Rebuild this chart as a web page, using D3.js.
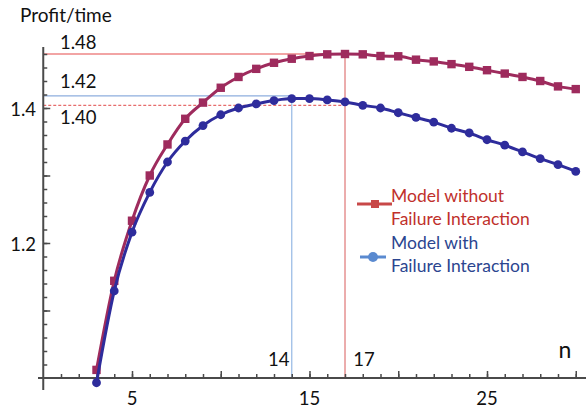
<!DOCTYPE html>
<html><head><meta charset="utf-8">
<script src="https://cdn.jsdelivr.net/npm/d3@7"></script>
<style>body{margin:0;background:#fff}svg{display:block}text{font-family:Lato,"Open Sans",sans-serif}</style>
</head><body>
<script>
const nValues = [3,4,5,6,7,8,9,10,11,12,13,14,15,16,17,18,19,20,21,22,23,24,25,26,27,28,29,30];
const withoutInteraction = [1.012,1.144,1.233,1.300,1.346,1.384,1.408,1.430,1.446,1.458,1.467,1.473,1.477,1.4795,1.480,1.4795,1.477,1.4766,1.4716,1.469,1.465,1.461,1.456,1.451,1.446,1.440,1.432,1.428];
const withInteraction = [0.993,1.129,1.216,1.275,1.320,1.351,1.374,1.390,1.400,1.406,1.411,1.414,1.414,1.412,1.409,1.404,1.400,1.393,1.386,1.379,1.370,1.363,1.353,1.345,1.335,1.325,1.316,1.306];
const xTickLabels = [5,15,25];
const yTickLabels = [1.2,1.4];
const refValues = [1.48,1.418,1.404];
const refLabels = ["1.48","1.42","1.40"];
const optimumN = [14,17];
const seriesNames = [["Model without","Failure Interaction"],["Model with","Failure Interaction"]];

const W=586,H=411;
const svg=d3.select("body").append("svg").attr("width",W).attr("height",H);
const x=d3.scaleLinear().domain([0,30]).range([43.25,575.75]);
const y=d3.scaleLinear().domain([1.0,1.48]).range([378,54]);
const axisColor="#4a4a4a";
const numFont=18.5;

// reference lines
svg.append("line").attr("x1",x(0)).attr("x2",x(optimumN[1])).attr("y1",y(refValues[0])).attr("y2",y(refValues[0]))
  .attr("stroke","#f2a4a4").attr("stroke-width",2);
svg.append("line").attr("x1",x(0)).attr("x2",x(optimumN[0])).attr("y1",y(refValues[1])).attr("y2",y(refValues[1]))
  .attr("stroke","#8eaede").attr("stroke-width",1.3);
svg.append("line").attr("x1",x(0)).attr("x2",x(optimumN[1])).attr("y1",y(refValues[2])).attr("y2",y(refValues[2]))
  .attr("stroke","#e04848").attr("stroke-width",1).attr("stroke-dasharray","3,2");
svg.append("line").attr("x1",x(optimumN[0])).attr("x2",x(optimumN[0])).attr("y1",y(1.0)).attr("y2",y(refValues[1]))
  .attr("stroke","#9dbde6").attr("stroke-width",1.3);
svg.append("line").attr("x1",x(optimumN[1])).attr("x2",x(optimumN[1])).attr("y1",y(1.0)).attr("y2",y(refValues[0]))
  .attr("stroke","#d85a5a").attr("stroke-width",1);

// axes
const yMinor=d3.range(1.02,1.485,0.02).map(v=>+v.toFixed(2));
const yMajor=[1.1,1.2,1.3,1.4];
const xMinor=d3.range(1,31);
const xMajor=[5,10,15,20,25,30];
function styleAxis(g){g.select(".domain").remove();g.selectAll(".tick line").attr("stroke",axisColor).attr("stroke-width",1.5);g.selectAll(".tick text").remove();}
svg.append("g").attr("transform",`translate(${x(0)},0)`).call(d3.axisLeft(y).tickValues(yMinor).tickSize(-4)).call(styleAxis);
svg.append("g").attr("transform",`translate(${x(0)},0)`).call(d3.axisLeft(y).tickValues(yMajor).tickSize(-7)).call(styleAxis);
svg.append("g").attr("transform",`translate(0,${y(1.0)})`).call(d3.axisBottom(x).tickValues(xMinor).tickSize(-4)).call(styleAxis);
svg.append("g").attr("transform",`translate(0,${y(1.0)})`).call(d3.axisBottom(x).tickValues(xMajor).tickSize(-7)).call(styleAxis);
svg.append("line").attr("x1",x(0)).attr("x2",x(0)).attr("y1",47).attr("y2",390).attr("stroke",axisColor).attr("stroke-width",2);
svg.append("line").attr("x1",38).attr("x2",W).attr("y1",y(1.0)).attr("y2",y(1.0)).attr("stroke",axisColor).attr("stroke-width",2);

// tick labels
svg.selectAll(".xl").data(xTickLabels).enter().append("text").attr("x",d=>x(d)).attr("y",405)
  .attr("text-anchor","middle").attr("font-size",numFont).attr("fill","#111").text(d=>d);
svg.selectAll(".yl").data(yTickLabels).enter().append("text").attr("x",36).attr("y",d=>y(d)+8)
  .attr("text-anchor","end").attr("font-size",numFont).attr("fill","#111").text(d=>d);
svg.selectAll(".rl").data(refValues).enter().append("text").attr("x",60)
  .attr("y",(d,i)=>[49,88,124][i]).attr("font-size",numFont).attr("fill","#111").text((d,i)=>refLabels[i]);
svg.append("text").attr("x",x(optimumN[0])-13).attr("y",366).attr("text-anchor","middle").attr("font-size",numFont).attr("fill","#111").text(optimumN[0]);
svg.append("text").attr("x",x(optimumN[1])+19).attr("y",366).attr("text-anchor","middle").attr("font-size",numFont).attr("fill","#111").text(optimumN[1]);
svg.append("text").attr("x",565).attr("y",358).attr("text-anchor","middle").attr("font-size",23).attr("fill","#111").text("n");
svg.append("text").attr("x",20).attr("y",22).attr("font-size",19).attr("fill","#111").text("Profit/time");

// series
const redC="#9e2b5d", blueC="#2e2c9c";
const line=d3.line().x((d,i)=>x(nValues[i])).y(d=>y(d)).curve(d3.curveMonotoneX);
svg.append("path").datum(withoutInteraction).attr("d",line).attr("fill","none").attr("stroke",redC).attr("stroke-width",3);
svg.selectAll(".sq").data(withoutInteraction).enter().append("rect")
  .attr("x",(d,i)=>x(nValues[i])-4.2).attr("y",d=>y(d)-4.2).attr("width",8.4).attr("height",8.4).attr("fill",redC);
svg.append("path").datum(withInteraction).attr("d",line).attr("fill","none").attr("stroke",blueC).attr("stroke-width",3);
svg.selectAll(".ci").data(withInteraction).enter().append("circle")
  .attr("cx",(d,i)=>x(nValues[i])).attr("cy",d=>y(d)).attr("r",4.4).attr("fill",blueC);

// legend
const lg=svg.append("g");
lg.append("line").attr("x1",357).attr("x2",392).attr("y1",204).attr("y2",204).attr("stroke","#c84848").attr("stroke-width",3);
lg.append("rect").attr("x",371).attr("y",200).attr("width",8).attr("height",8).attr("fill","#c84848");
lg.append("line").attr("x1",360).attr("x2",386).attr("y1",257).attr("y2",257).attr("stroke","#5a8ad0").attr("stroke-width",3);
lg.append("circle").attr("cx",373).attr("cy",257).attr("r",5).attr("fill","#5a8ad0");
const legColors=["#c0302c","#2b4590"];
const legY=[[202,225],[249,272]];
seriesNames.forEach((s,k)=>s.forEach((t,j)=>lg.append("text").attr("x",391).attr("y",legY[k][j])
  .attr("font-size",17.5).attr("fill",legColors[k]).text(t)));
</script>
</body></html>
